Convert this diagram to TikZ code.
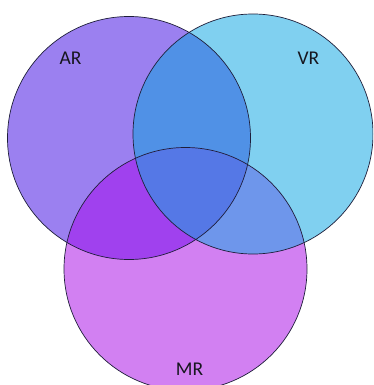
\documentclass[tikz,border=0pt]{standalone}
\usepackage{fontspec}
\setmainfont{Carlito}
\definecolor{arcol}{HTML}{9B80F0}
\definecolor{vrcol}{HTML}{80D0F0}
\definecolor{mrcol}{HTML}{D280F2}
\definecolor{avcol}{HTML}{5091E6}
\definecolor{amcol}{HTML}{A041EE}
\definecolor{vmcol}{HTML}{6E96EB}
\definecolor{allcol}{HTML}{5578E6}
\definecolor{rimcol}{HTML}{1E1E3A}
\definecolor{labcol}{HTML}{16161E}
\begin{document}
\begin{tikzpicture}[x=1pt,y=-1pt,
  rim/.style={draw=rimcol,line width=0.7pt},
  setlabel/.style={inner sep=0pt,text=labcol,font=\fontsize{19.5}{23}\selectfont}]
\clip (0,0) rectangle (373,385);
\fill[white] (0,0) rectangle (373,385);
% circle centres and radii
\coordinate (A) at (129,138);
\coordinate (V) at (253,134);
\coordinate (M) at (185.5,269);
\def\rA{121.5pt}
\def\rV{120pt}
\def\rM{121.5pt}
% single-set fills
\fill[arcol] (A) circle[radius=\rA];
\fill[vrcol] (V) circle[radius=\rV];
\fill[mrcol] (M) circle[radius=\rM];
% pairwise overlaps
\begin{scope}
  \clip (A) circle[radius=\rA];
  \fill[avcol] (V) circle[radius=\rV];
\end{scope}
\begin{scope}
  \clip (A) circle[radius=\rA];
  \fill[amcol] (M) circle[radius=\rM];
\end{scope}
\begin{scope}
  \clip (V) circle[radius=\rV];
  \fill[vmcol] (M) circle[radius=\rM];
\end{scope}
% triple overlap
\begin{scope}
  \clip (A) circle[radius=\rA];
  \clip (V) circle[radius=\rV];
  \fill[allcol] (M) circle[radius=\rM];
\end{scope}
% outlines
\draw[rim] (A) circle[radius=\rA];
\draw[rim] (V) circle[radius=\rV];
\draw[rim] (M) circle[radius=\rM];
% labels
\node[setlabel] (ar) at (70.5,58.5) {AR};
\node[setlabel] (vr) at (308.5,58.5) {VR};
\node[setlabel] (mr) at (189.5,369.5) {MR};
\end{tikzpicture}
\end{document}
